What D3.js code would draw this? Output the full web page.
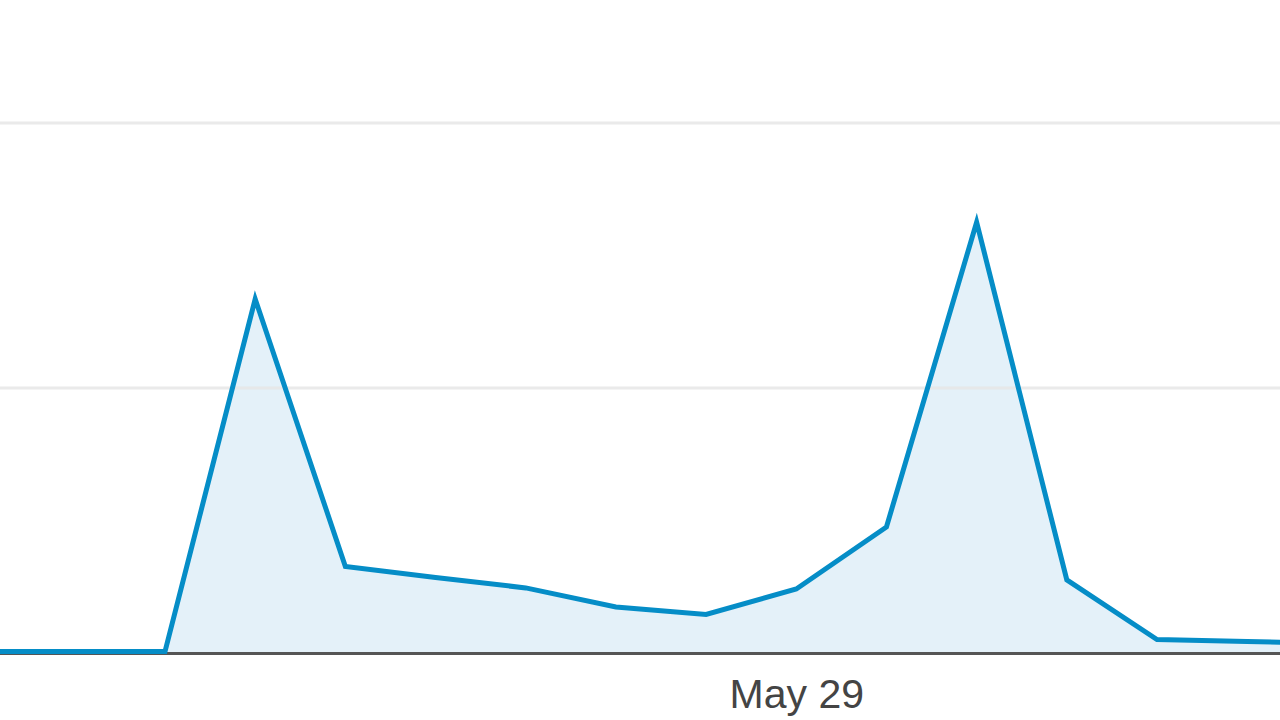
<!DOCTYPE html>
<html>
<head>
<meta charset="utf-8">
<script src="https://cdn.jsdelivr.net/npm/d3@7"></script>
<style>
  html, body { margin: 0; padding: 0; background: #ffffff; overflow: hidden; }
  svg { display: block; }
</style>
</head>
<body>
<svg id="chart" width="1280" height="720"></svg>
<script>
// ---- data ----
const dates = ["2013-05-20","2013-05-21","2013-05-22","2013-05-23","2013-05-24","2013-05-25","2013-05-26",
               "2013-05-27","2013-05-28","2013-05-29","2013-05-30","2013-05-31","2013-06-01","2013-06-02",
               "2013-06-03","2013-06-04"];
const visits = [0, 0, 0, 13.3, 3.21, 2.79, 2.40, 1.68, 1.40, 2.36, 4.70, 16.2, 2.70, 0.45, 0.38, 0.30];
const gridValues = [10, 20];
const tickLabels = [{ date: "2013-05-29", label: "May 29" }];

// ---- layout ----
const W = 1280, H = 720;
const parse = d3.timeParse("%Y-%m-%d");
const series = dates.map((d, i) => ({ date: parse(d), value: visits[i] }));

const x = d3.scaleTime()
  .domain([parse("2013-05-22"), parse("2013-06-02")])
  .range([165, 1157]);
const y = d3.scaleLinear()
  .domain([0, 20])
  .range([653, 123]);

const svg = d3.select("#chart");

// area
const area = d3.area()
  .x(d => x(d.date))
  .y0(y(0))
  .y1(d => y(d.value));
svg.append("path")
  .datum(series)
  .attr("d", area)
  .attr("fill", "#e4f1f9");

// gridlines
svg.append("g").selectAll("line")
  .data(gridValues)
  .join("line")
  .attr("x1", 0).attr("x2", W)
  .attr("y1", d => y(d)).attr("y2", d => y(d))
  .attr("stroke", "#e6e6e6")
  .attr("stroke-opacity", 0.85)
  .attr("stroke-width", 3);

// baseline axis
const xAxis = d3.axisBottom(x)
  .tickValues(tickLabels.map(t => parse(t.date)))
  .tickFormat((d, i) => tickLabels[i].label)
  .tickSize(0)
  .tickPadding(0);
const axisG = svg.append("g")
  .attr("transform", `translate(0,${y(0) + 0.5})`)
  .call(xAxis);
axisG.select(".domain").remove();
axisG.append("line")
  .attr("x1", 0).attr("x2", W)
  .attr("y1", 0).attr("y2", 0)
  .attr("stroke", "#555555")
  .attr("stroke-width", 3);
axisG.selectAll(".tick text")
  .attr("y", 54)
  .attr("dy", 0)
  .attr("fill", "#444444")
  .style("font-family", "'Liberation Sans', Arial, sans-serif")
  .style("font-size", "41px");

// line
const line = d3.line()
  .x(d => x(d.date))
  .y(d => y(d.value));
svg.append("path")
  .datum(series)
  .attr("d", line)
  .attr("fill", "none")
  .attr("stroke", "#058dc7")
  .attr("stroke-width", 5)
  .attr("stroke-linejoin", "miter")
  .attr("transform", "translate(0,-1.5)");
</script>
</body>
</html>
